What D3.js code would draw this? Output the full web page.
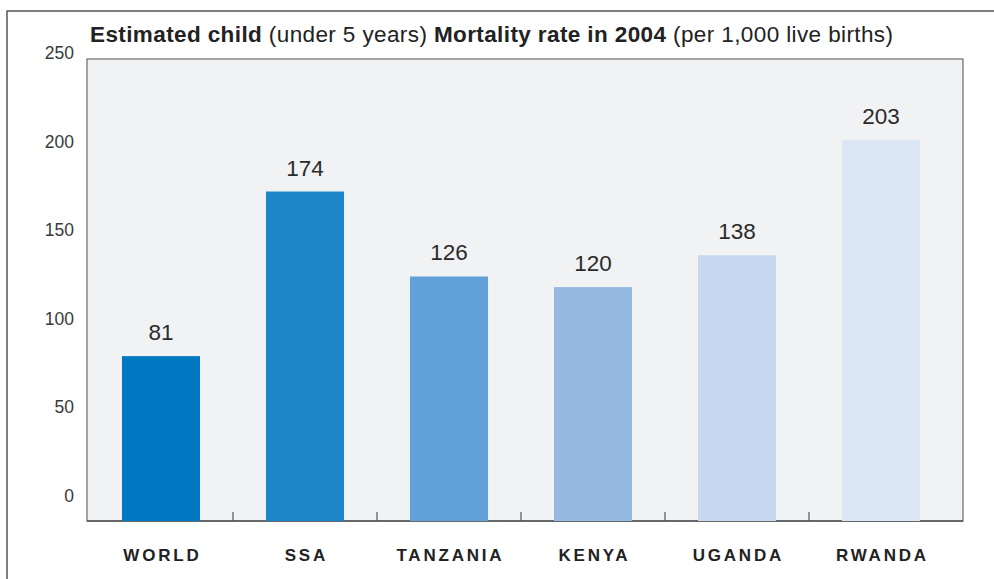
<!DOCTYPE html>
<html>
<head>
<meta charset="utf-8">
<script src="https://cdn.jsdelivr.net/npm/d3@7"></script>
<style>
  body { margin: 0; background: #fff; }
  svg { display: block; font-family: "Liberation Sans", Arial, sans-serif; }
</style>
</head>
<body>
<svg id="chart" width="994" height="579"></svg>
<script>
// data
const countries = ['WORLD', 'SSA', 'TANZANIA', 'KENYA', 'UGANDA', 'RWANDA'];
const mortality = [81, 174, 126, 120, 138, 203];
const barColors = ['#0077c1', '#1e86c8', '#62a1d7', '#95b9e1', '#c6d8ef', '#dbe7f5'];
const yTicks = [0, 50, 100, 150, 200, 250];

const data = countries.map((c, i) => ({ name: c, value: mortality[i], color: barColors[i] }));

const svg = d3.select('#chart');

const plot = { left: 87, right: 963, top: 59, bottom: 521 };

// outer frame (only top and left edges show)
svg.append('rect')
    .attr('x', 7).attr('y', 11)
    .attr('width', 1100).attr('height', 700)
    .attr('fill', 'none')
    .attr('stroke', '#555')
    .attr('stroke-width', 1.5);

// plot background
svg.append('rect')
    .attr('x', plot.left).attr('y', plot.top)
    .attr('width', plot.right - plot.left)
    .attr('height', plot.bottom - plot.top)
    .attr('fill', '#f1f2f4')
    .attr('stroke', '#6a6a6a')
    .attr('stroke-width', 1.2);

const x = d3.scaleBand()
    .domain(countries)
    .range([89, 953])
    .paddingInner(0.458)
    .paddingOuter(0.229);

const y = d3.scaleLinear()
    .domain([0, 250])
    .range([499.5, 57]);

// bottom axis line + ticks between categories
svg.append('line')
    .attr('x1', plot.left).attr('x2', plot.right)
    .attr('y1', plot.bottom).attr('y2', plot.bottom)
    .attr('stroke', '#555')
    .attr('stroke-width', 1.5);

svg.append('g')
    .selectAll('line')
    .data(countries.slice(0, -1))
    .join('line')
    .attr('x1', d => x(d) + x.bandwidth() + (x.step() - x.bandwidth()) / 2)
    .attr('x2', d => x(d) + x.bandwidth() + (x.step() - x.bandwidth()) / 2)
    .attr('y1', plot.bottom)
    .attr('y2', plot.bottom - 9)
    .attr('stroke', '#555')
    .attr('stroke-width', 1.2);

// bars
svg.append('g')
    .selectAll('rect')
    .data(data)
    .join('rect')
    .attr('x', d => x(d.name))
    .attr('width', x.bandwidth())
    .attr('y', d => y(d.value))
    .attr('height', d => plot.bottom - y(d.value))
    .attr('fill', d => d.color);

// value labels
svg.append('g')
    .selectAll('text')
    .data(data)
    .join('text')
    .attr('x', d => x(d.name) + x.bandwidth() / 2)
    .attr('y', d => y(d.value) - 16)
    .attr('text-anchor', 'middle')
    .attr('font-size', 22.5)
    .attr('fill', '#2a2a2a')
    .text(d => d.value);

// y axis labels
const yaxis = d3.axisLeft(y)
    .tickValues(yTicks)
    .tickSize(0)
    .tickPadding(0);

const yaxis_group = svg.append('g')
    .attr('transform', 'translate(74,0)')
    .call(yaxis);

yaxis_group.select('.domain').remove();
yaxis_group.selectAll('text')
    .attr('font-size', 17.5)
    .attr('font-family', '"Liberation Sans", Arial, sans-serif')
    .attr('fill', '#3a3a3a')
    .attr('dy', '0.1em');

// category labels
svg.append('g')
    .selectAll('text')
    .data(countries)
    .join('text')
    .attr('x', d => x(d) + x.bandwidth() / 2 + 1.4)
    .attr('y', 561)
    .attr('text-anchor', 'middle')
    .attr('font-size', 17)
    .attr('font-weight', 'bold')
    .attr('letter-spacing', 2.8)
    .attr('fill', '#222')
    .text(d => d);

// title
const title = svg.append('text')
    .attr('x', 90)
    .attr('y', 42)
    .attr('font-size', 22.5)
    .attr('textLength', 803)
    .attr('lengthAdjust', 'spacing')
    .attr('fill', '#222');

title.append('tspan').attr('font-weight', 'bold').text('Estimated child');
title.append('tspan').text(' (under 5 years) ');
title.append('tspan').attr('font-weight', 'bold').text('Mortality rate in 2004');
title.append('tspan').text(' (per 1,000 live births)');
</script>
</body>
</html>
